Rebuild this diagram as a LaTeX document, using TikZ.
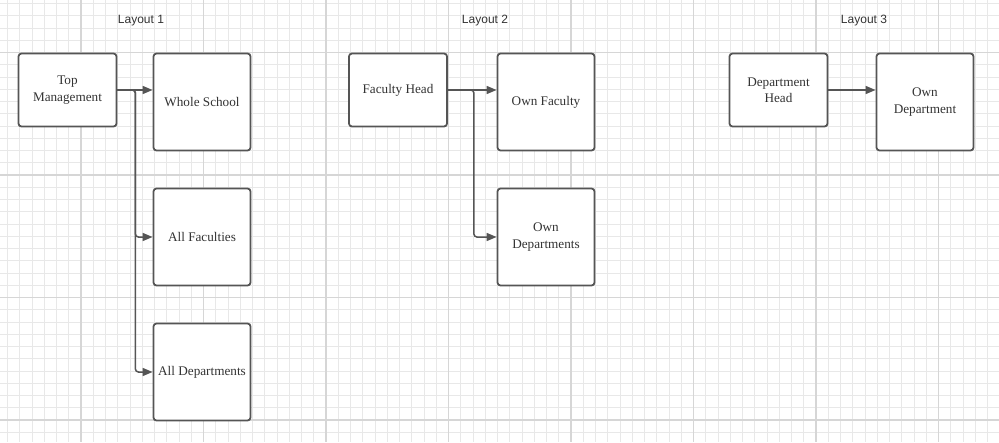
\documentclass[tikz,border=0pt]{standalone}
\usepackage{fontspec}
\setmainfont{Liberation Serif}
\newfontfamily\titlefont{Liberation Sans}
\usetikzlibrary{arrows.meta}
\definecolor{minorgrid}{HTML}{E8E8E8}
\definecolor{majorgrid}{HTML}{D6D6D6}
\definecolor{edge}{HTML}{555555}
\definecolor{txt}{HTML}{333333}
\tikzset{
  minorline/.style={draw=minorgrid, line width=1pt},
  majorline/.style={draw=majorgrid, line width=1.4pt},
  box/.style={draw=edge, line width=1.8pt, rounded corners=3pt, fill=white,
    align=center, text=txt, font=\fontsize{13.2}{16.5}\selectfont, inner sep=1pt},
  smallbox/.style={box, minimum width=98pt, minimum height=73pt},
  bigbox/.style={box, minimum width=97pt, minimum height=97pt},
  title/.style={text=txt, font=\titlefont\fontsize{12}{14}\selectfont},
  conn/.style={draw=edge, line width=1.5pt, rounded corners=3pt,
    -{Triangle[length=10pt,width=8pt]}}
}
\begin{document}
\begin{tikzpicture}[x=1pt,y=-1pt]
\useasboundingbox (0,0) rectangle (999,442);
\fill[white] (0,0) rectangle (999,442);
% grid
\foreach \i in {0,...,82} {
  \draw[minorline] ({-4.75+12.25*\i},0) -- ++(0,442);
}
\foreach \i in {0,...,36} {
  \draw[minorline] (0,{3.5+12.25*\i}) -- ++(999,0);
}
\foreach \i in {0,...,8} {
  \draw[majorline] ({-41.5+122.5*\i},0) -- ++(0,442);
}
\foreach \i in {0,...,3} {
  \draw[majorline] (0,{52.5+122.5*\i}) -- ++(999,0);
}
% titles
\node[title] (t1) at (141,21) {Layout 1};
\node[title] (t2) at (485,21) {Layout 2};
\node[title] (t3) at (864,21) {Layout 3};
% layout 1
\node[smallbox] (tm) at (67.5,90) {Top\\Management};
\node[bigbox] (ws) at (202,102) {Whole School};
\node[bigbox] (af) at (202,237) {All Faculties};
\node[bigbox] (ad) at (202,372) {All Departments};
% layout 2
\node[smallbox] (fh) at (398,90) {Faculty Head};
\node[bigbox] (of) at (546,102) {Own Faculty};
\node[bigbox] (od) at (546,237) {Own\\Departments};
% layout 3
\node[smallbox] (dh) at (778.5,90) {Department\\Head};
\node[bigbox] (ode) at (925,102) {Own\\Department};
% connectors
\draw[conn] (tm.east) -- (ws.west |- tm.east);
\draw[conn] (tm.east) -- ([xshift=18pt]tm.east) |- (af.west);
\draw[conn] (tm.east) -- ([xshift=18pt]tm.east) |- (ad.west);
\draw[conn] (fh.east) -- (of.west |- fh.east);
\draw[conn] (fh.east) -- ([xshift=26pt]fh.east) |- (od.west);
\draw[conn] (dh.east) -- (ode.west |- dh.east);
\end{tikzpicture}
\end{document}
